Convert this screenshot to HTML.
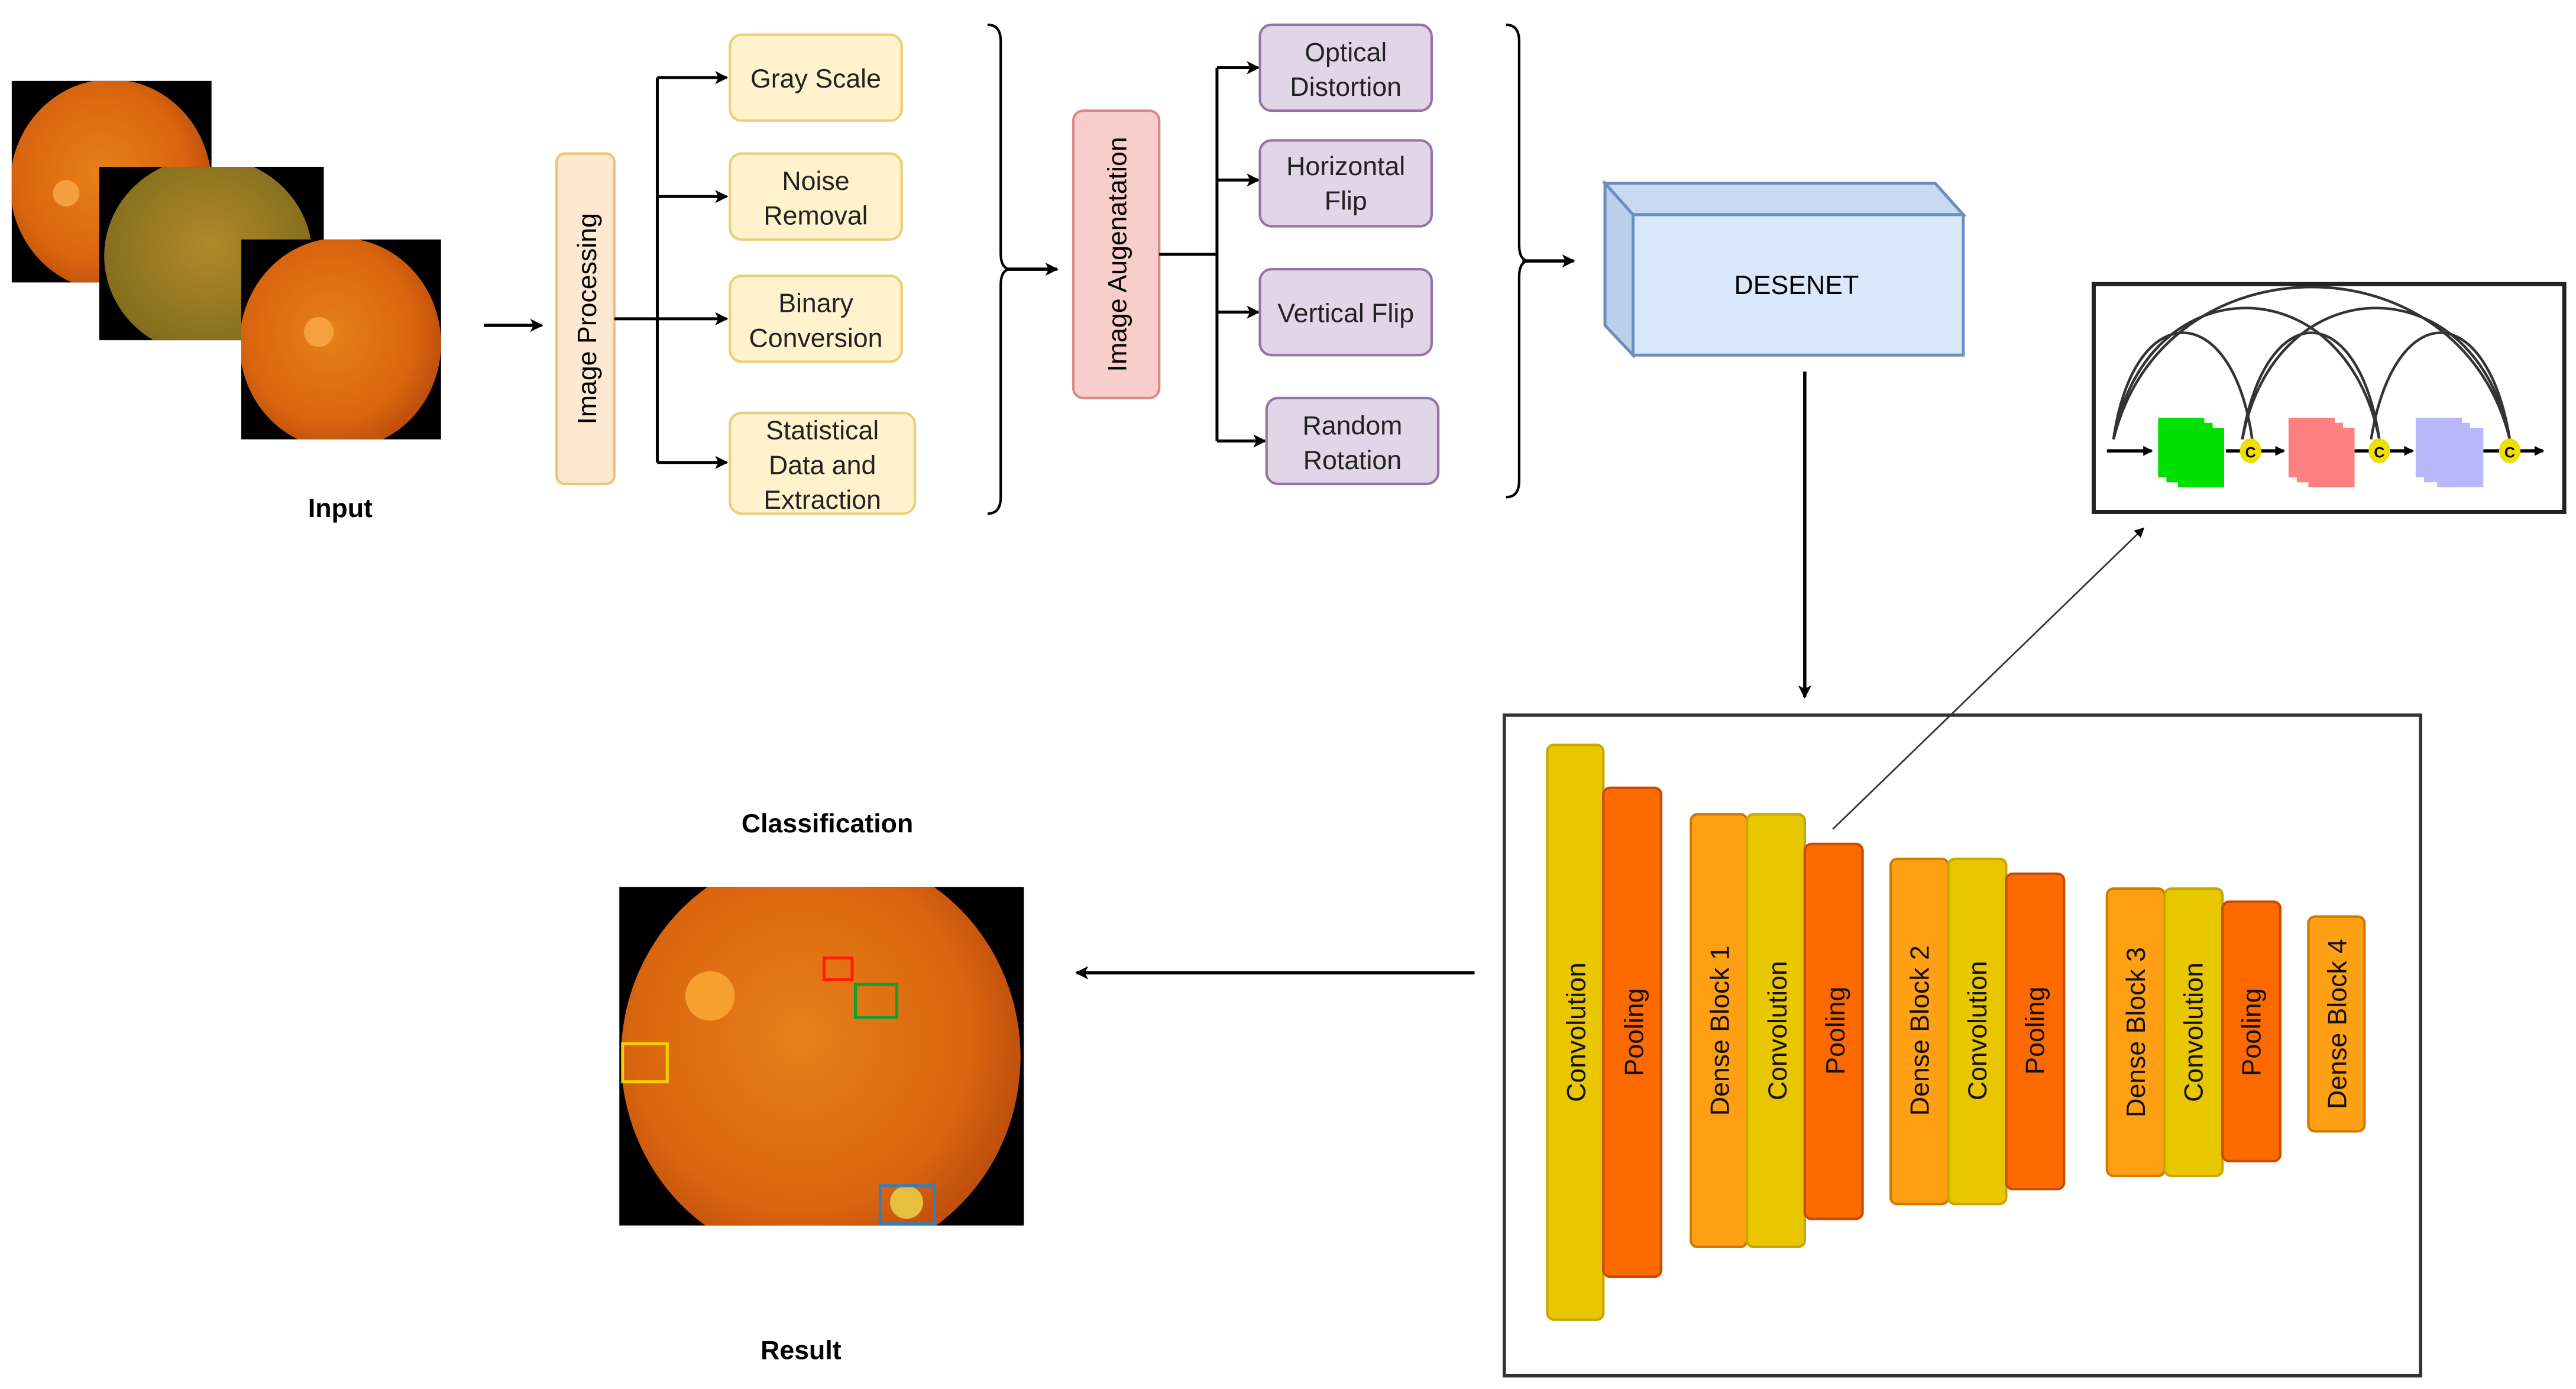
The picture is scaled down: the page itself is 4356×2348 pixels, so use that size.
<!DOCTYPE html>
<html><head><meta charset="utf-8"><style>
html,body{margin:0;padding:0;background:#fff;}
svg{display:block;}
text{font-family:"Liberation Sans",Arial,sans-serif;}
</style></head><body>
<svg width="4356" height="2348" viewBox="0 0 1560 841" xmlns="http://www.w3.org/2000/svg">
<defs>
<marker id="ah" markerWidth="8" markerHeight="8" refX="7" refY="4" orient="auto" markerUnits="userSpaceOnUse"><path d="M0,0 L8,4 L0,8 L2,4 z" fill="#000"/></marker>
<marker id="as" markerWidth="6" markerHeight="6" refX="5" refY="3" orient="auto" markerUnits="userSpaceOnUse"><path d="M0,0 L6,3 L0,6 z" fill="#000"/></marker>
<radialGradient id="eye" cx="45%" cy="45%" r="60%"><stop offset="0" stop-color="#e8801a"/><stop offset="0.7" stop-color="#d9650f"/><stop offset="1" stop-color="#b84a0c"/></radialGradient>
<radialGradient id="eye2" cx="50%" cy="45%" r="60%"><stop offset="0" stop-color="#b08a2a"/><stop offset="1" stop-color="#7e6a1c"/></radialGradient>
<clipPath id="c1"><rect x="7" y="49" width="121" height="122"/></clipPath>
<clipPath id="c2"><rect x="60" y="101" width="136" height="105"/></clipPath>
<clipPath id="c3"><rect x="146" y="145" width="121" height="121"/></clipPath>
<clipPath id="c4"><rect x="375" y="537" width="245" height="205"/></clipPath>
</defs>
<rect width="1560" height="841" fill="#fff"/>
<!-- input images -->
<rect x="7" y="49" width="121" height="122" fill="#000"/>
<g clip-path="url(#c1)"><ellipse cx="67" cy="112" rx="61" ry="64" fill="url(#eye)"/>
<circle cx="40" cy="117" r="8" fill="#f5a040"/></g>
<rect x="60" y="101" width="136" height="105" fill="#000"/>
<g clip-path="url(#c2)"><ellipse cx="126" cy="155" rx="63" ry="60" fill="url(#eye2)"/></g>
<rect x="146" y="145" width="121" height="121" fill="#000"/>
<g clip-path="url(#c3)"><ellipse cx="206" cy="208" rx="61" ry="64" fill="url(#eye)"/>
<circle cx="193" cy="201" r="9" fill="#f6a040"/></g>
<text x="206" y="313" font-size="16" font-weight="bold" text-anchor="middle">Input</text>
<line x1="293" y1="197" x2="328" y2="197" stroke="#000" stroke-width="2" marker-end="url(#ah)"/>
<!-- image processing -->
<rect x="337" y="93" width="35" height="200" rx="5" fill="#fde9d2" stroke="#f0c27a" stroke-width="1.5"/>
<text transform="translate(361,193) rotate(-90)" font-size="16" text-anchor="middle">Image Processing</text>
<g stroke="#000" stroke-width="1.8" fill="none">
<line x1="372" y1="193" x2="398" y2="193"/>
<line x1="398" y1="47" x2="398" y2="280"/>
<line x1="398" y1="47" x2="440" y2="47" marker-end="url(#ah)"/>
<line x1="398" y1="119" x2="440" y2="119" marker-end="url(#ah)"/>
<line x1="398" y1="193" x2="440" y2="193" marker-end="url(#ah)"/>
<line x1="398" y1="280" x2="440" y2="280" marker-end="url(#ah)"/>
</g>
<g fill="#fff2cc" stroke="#e8cf7a" stroke-width="1.5">
<rect x="442" y="21" width="104" height="52" rx="7"/>
<rect x="442" y="93" width="104" height="52" rx="7"/>
<rect x="442" y="167" width="104" height="52" rx="7"/>
<rect x="442" y="250" width="112" height="61" rx="7"/>
</g>
<g font-size="16" text-anchor="middle" fill="#222">
<text x="494" y="53">Gray Scale</text>
<text x="494" y="115">Noise</text><text x="494" y="136">Removal</text>
<text x="494" y="189">Binary</text><text x="494" y="210">Conversion</text>
<text x="498" y="266">Statistical</text><text x="498" y="287">Data and</text><text x="498" y="308">Extraction</text>
</g>
<!-- brace 1 -->
<path d="M598,15 Q606,15 606,25 L606,153 Q606,163 612,163 Q606,163 606,173 L606,301 Q606,311 598,311" fill="none" stroke="#000" stroke-width="1.5"/>
<line x1="610" y1="163" x2="640" y2="163" stroke="#000" stroke-width="2" marker-end="url(#ah)"/>
<!-- image augmentation -->
<rect x="650" y="67" width="52" height="174" rx="6" fill="#f8cecc" stroke="#d98a88" stroke-width="1.5"/>
<text transform="translate(682,154) rotate(-90)" font-size="16" text-anchor="middle">Image Augenatation</text>
<g stroke="#000" stroke-width="1.8" fill="none">
<line x1="702" y1="154" x2="737" y2="154"/>
<line x1="737" y1="41" x2="737" y2="267"/>
<line x1="737" y1="41" x2="762" y2="41" marker-end="url(#ah)"/>
<line x1="737" y1="109" x2="762" y2="109" marker-end="url(#ah)"/>
<line x1="737" y1="189" x2="762" y2="189" marker-end="url(#ah)"/>
<line x1="737" y1="267" x2="766" y2="267" marker-end="url(#ah)"/>
</g>
<g fill="#e1d5e7" stroke="#9673a6" stroke-width="1.5">
<rect x="763" y="15" width="104" height="52" rx="7"/>
<rect x="763" y="85" width="104" height="52" rx="7"/>
<rect x="763" y="163" width="104" height="52" rx="7"/>
<rect x="767" y="241" width="104" height="52" rx="7"/>
</g>
<g font-size="16" text-anchor="middle" fill="#222">
<text x="815" y="37">Optical</text><text x="815" y="58">Distortion</text>
<text x="815" y="106">Horizontal</text><text x="815" y="127">Flip</text>
<text x="815" y="195">Vertical Flip</text>
<text x="819" y="263">Random</text><text x="819" y="284">Rotation</text>
</g>
<!-- brace 2 -->
<path d="M912,15 Q920,15 920,25 L920,148 Q920,158 926,158 Q920,158 920,168 L920,291 Q920,301 912,301" fill="none" stroke="#000" stroke-width="1.5"/>
<line x1="922" y1="158" x2="953" y2="158" stroke="#000" stroke-width="2" marker-end="url(#ah)"/>
<!-- DESENET -->
<g fill="#dae8fc" stroke="#6c8ebf" stroke-width="1.8">
<path d="M972,111 L1172,111 L1189,130 L989,130 Z" fill="#c8d9f2"/>
<path d="M972,111 L989,130 L989,215 L972,197 Z" fill="#bcd0ec"/>
<rect x="989" y="130" width="200" height="85"/>
</g>
<text x="1088" y="178" font-size="16" text-anchor="middle">DESENET</text>
<line x1="1093" y1="225" x2="1093" y2="422" stroke="#000" stroke-width="2" marker-end="url(#ah)"/>
<!-- inset -->
<rect x="1268" y="172" width="285" height="138" fill="#fff" stroke="#222" stroke-width="2.5"/>
<g fill="none" stroke="#333" stroke-width="1.6">
<path d="M1280,266 C1292,180 1352,180 1364,266"/>
<path d="M1280,266 C1300,160 1420,160 1441,266"/>
<path d="M1280,266 C1310,143 1490,143 1520,266"/>
<path d="M1358,266 C1372,180 1428,180 1441,266"/>
<path d="M1358,266 C1378,160 1500,160 1520,266"/>
<path d="M1436,266 C1450,180 1506,180 1520,266"/>
</g>
<g stroke="#000" stroke-width="2">
<line x1="1276" y1="273" x2="1303" y2="273" marker-end="url(#as)"/>
<line x1="1348" y1="273" x2="1357" y2="273"/>
<line x1="1369" y1="273" x2="1383" y2="273" marker-end="url(#as)"/>
<line x1="1426" y1="273" x2="1435" y2="273"/>
<line x1="1447" y1="273" x2="1461" y2="273" marker-end="url(#as)"/>
<line x1="1504" y1="273" x2="1514" y2="273"/>
<line x1="1526" y1="273" x2="1540" y2="273" marker-end="url(#as)"/>
</g>
<g fill="#00e000"><rect x="1307" y="253" width="28" height="36"/><rect x="1312" y="256" width="28" height="36"/><rect x="1319" y="259" width="28" height="36"/></g>
<g fill="#ff8080"><rect x="1386" y="253" width="28" height="36"/><rect x="1391" y="256" width="28" height="36"/><rect x="1398" y="259" width="28" height="36"/></g>
<g fill="#b8b8fa"><rect x="1463" y="253" width="28" height="36"/><rect x="1468" y="256" width="28" height="36"/><rect x="1476" y="259" width="28" height="36"/></g>
<g fill="#f0e000" stroke="#e8e000" stroke-width="1"><ellipse cx="1363" cy="273" rx="6" ry="7"/><ellipse cx="1441" cy="273" rx="6" ry="7"/><ellipse cx="1520" cy="273" rx="6" ry="7"/></g>
<g font-size="9" font-weight="bold" text-anchor="middle"><text x="1363" y="277">C</text><text x="1441" y="277">C</text><text x="1520" y="277">C</text></g>
<line x1="1110" y1="502" x2="1298" y2="320" stroke="#333" stroke-width="1" marker-end="url(#as)"/>
<!-- big box -->
<rect x="911" y="433" width="555" height="400" fill="none" stroke="#333" stroke-width="2"/>
<g stroke-width="1.5">
<rect x="937" y="451" width="34" height="348" rx="4" fill="#e8c600" stroke="#c8a800"/>
<rect x="971" y="477" width="35" height="296" rx="4" fill="#ff6a00" stroke="#c84c00"/>
<rect x="1024" y="493" width="34" height="262" rx="4" fill="#ff9f14" stroke="#d07800"/>
<rect x="1058" y="493" width="35" height="262" rx="4" fill="#e8c600" stroke="#c8a800"/>
<rect x="1093" y="511" width="35" height="227" rx="4" fill="#ff6a00" stroke="#c84c00"/>
<rect x="1145" y="520" width="35" height="209" rx="4" fill="#ff9f14" stroke="#d07800"/>
<rect x="1180" y="520" width="35" height="209" rx="4" fill="#e8c600" stroke="#c8a800"/>
<rect x="1215" y="529" width="35" height="191" rx="4" fill="#ff6a00" stroke="#c84c00"/>
<rect x="1276" y="538" width="35" height="174" rx="4" fill="#ff9f14" stroke="#d07800"/>
<rect x="1311" y="538" width="35" height="174" rx="4" fill="#e8c600" stroke="#c8a800"/>
<rect x="1346" y="546" width="35" height="157" rx="4" fill="#ff6a00" stroke="#c84c00"/>
<rect x="1398" y="555" width="34" height="130" rx="4" fill="#ff9f14" stroke="#d07800"/>
</g>
<g font-size="16" text-anchor="middle" fill="#111">
<text transform="translate(960,625) rotate(-90)">Convolution</text>
<text transform="translate(995,625) rotate(-90)">Pooling</text>
<text transform="translate(1047,624) rotate(-90)">Dense Block 1</text>
<text transform="translate(1082,624) rotate(-90)">Convolution</text>
<text transform="translate(1117,624) rotate(-90)">Pooling</text>
<text transform="translate(1168,624) rotate(-90)">Dense Block 2</text>
<text transform="translate(1203,624) rotate(-90)">Convolution</text>
<text transform="translate(1238,624) rotate(-90)">Pooling</text>
<text transform="translate(1299,625) rotate(-90)">Dense Block 3</text>
<text transform="translate(1334,625) rotate(-90)">Convolution</text>
<text transform="translate(1369,625) rotate(-90)">Pooling</text>
<text transform="translate(1421,620) rotate(-90)">Dense Block 4</text>
</g>
<line x1="893" y1="589" x2="652" y2="589" stroke="#000" stroke-width="2" marker-end="url(#ah)"/>
<!-- result -->
<text x="501" y="504" font-size="16" font-weight="bold" text-anchor="middle">Classification</text>
<rect x="375" y="537" width="245" height="205" fill="#000"/>
<g clip-path="url(#c4)">
<ellipse cx="497" cy="640" rx="121" ry="125" fill="url(#eye)"/>
<circle cx="430" cy="603" r="15" fill="#f5a030"/>
<circle cx="549" cy="728" r="10" fill="#e8c040"/>
</g>
<g fill="none" stroke-width="1.8">
<rect x="499" y="580" width="17" height="13" stroke="#ff2000"/>
<rect x="518" y="596" width="25" height="20" stroke="#10a030"/>
<rect x="377" y="632" width="27" height="23" stroke="#f5d000"/>
<rect x="533" y="718" width="33" height="23" stroke="#3080c0"/>
</g>
<text x="485" y="823" font-size="16" font-weight="bold" text-anchor="middle">Result</text>
</svg>
</body></html>
